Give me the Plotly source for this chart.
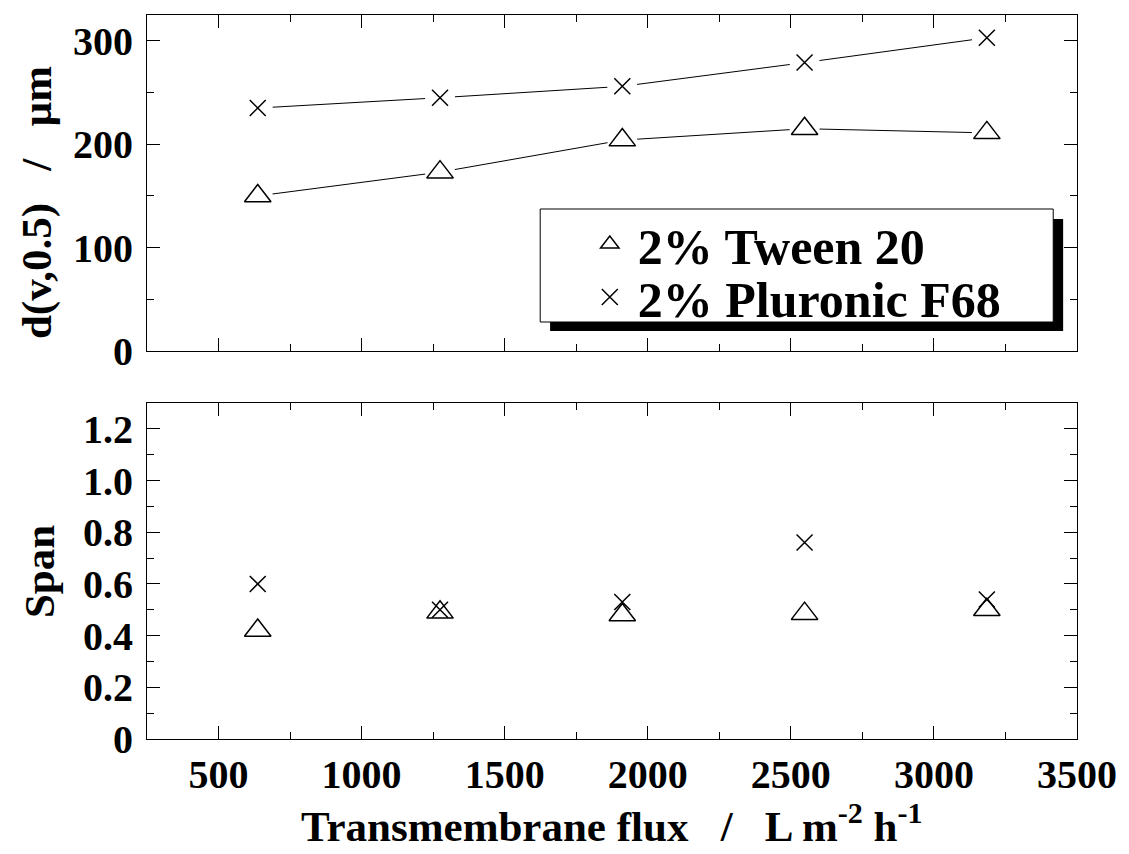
import plotly.graph_objects as go
from plotly.subplots import make_subplots

flux = [637, 1274, 1911, 2548, 3185]
d50_tween = [150, 173, 204, 215, 211]
d50_pluronic = [235, 245, 256, 279, 303]
span_tween = [0.42, 0.49, 0.48, 0.485, 0.50]
span_pluronic = [0.60, 0.50, 0.53, 0.76, 0.54]
names = ["2% Tween 20", "2% Pluronic F68"]
x_ticks = [500, 1000, 1500, 2000, 2500, 3000, 3500]
top_ticks = [0, 100, 200, 300]
bot_ticks = [0, 0.2, 0.4, 0.6, 0.8, 1.0, 1.2]
bot_ticklabels = ["0", "0.2", "0.4", "0.6", "0.8", "1.0", "1.2"]

FONT = "Liberation Serif"
NB = "\u00a0"

fig = make_subplots(rows=2, cols=1, shared_xaxes=False, vertical_spacing=0.0)

# top: connecting lines
for ys in (d50_tween, d50_pluronic):
    fig.add_trace(go.Scatter(x=flux, y=ys, mode="lines", line=dict(color="black", width=1),
                             showlegend=False, hoverinfo="skip"), row=1, col=1)
# white masks to leave gaps around markers
for ys in (d50_tween, d50_pluronic):
    fig.add_trace(go.Scatter(x=flux, y=ys, mode="markers",
                             marker=dict(symbol="circle", size=30, color="white", line=dict(width=0)),
                             showlegend=False, hoverinfo="skip"), row=1, col=1)

tri = dict(symbol="triangle-up-open", size=23, color="black", line=dict(width=1.5, color="black"))
crs = dict(symbol="x-thin-open", size=16, color="black", line=dict(width=1.5, color="black"))

fig.add_trace(go.Scatter(x=flux, y=d50_tween, mode="markers", marker=tri, name=names[0],
                         legendgroup="t", legend="legend"), row=1, col=1)
fig.add_trace(go.Scatter(x=flux, y=d50_pluronic, mode="markers", marker=crs, name=names[1],
                         legendgroup="p", legend="legend2"), row=1, col=1)
fig.add_trace(go.Scatter(x=flux, y=span_tween, mode="markers", marker=tri, name=names[0],
                         legendgroup="t", showlegend=False), row=2, col=1)
fig.add_trace(go.Scatter(x=flux, y=span_pluronic, mode="markers", marker=crs, name=names[1],
                         legendgroup="p", showlegend=False), row=2, col=1)

tickfont = dict(family=FONT, size=40, color="black", weight="bold")
common_x = dict(range=[250, 3500], tickvals=x_ticks, ticks="inside", ticklen=13, tickwidth=1,
                tickcolor="black", showline=True, linecolor="black", linewidth=1.2, mirror="ticks",
                showgrid=False, zeroline=False,
                minor=dict(dtick=250, tick0=0, ticks="inside", ticklen=7, tickwidth=1, tickcolor="black"),
                tickfont=tickfont)
common_y = dict(ticks="inside", ticklen=13, tickwidth=1, tickcolor="black", showline=True,
                linecolor="black", linewidth=1.2, mirror="ticks", showgrid=False, zeroline=False,
                tickfont=tickfont, ticklabelstandoff=5)

fig.update_xaxes(**common_x)
fig.update_xaxes(showticklabels=False, row=1, col=1)
fig.update_xaxes(ticklabelstandoff=0, row=2, col=1)
fig.update_yaxes(**common_y)
fig.update_yaxes(range=[0, 325], tickvals=top_ticks,
                 minor=dict(dtick=50, tick0=0, ticks="inside", ticklen=7, tickwidth=1, tickcolor="black"),
                 row=1, col=1)
fig.update_yaxes(range=[0, 1.3], tickvals=bot_ticks, ticktext=bot_ticklabels,
                 minor=dict(dtick=0.1, tick0=0, ticks="inside", ticklen=7, tickwidth=1, tickcolor="black"),
                 row=2, col=1)

W, H = 1129, 854
L, R, T, B = 147, 43, 15, 115
pw, ph = W - L - R, H - T - B
mid1_px, mid2_px, bot_px = 351, 403, 739
def py(p):
    return (bot_px - p) / ph
def px(p):
    return (p - L) / pw

fig.layout.yaxis.domain = [py(mid1_px), 1]
fig.layout.yaxis2.domain = [0, py(mid2_px)]

# legend box with drop shadow
fig.add_shape(type="rect", xref="paper", yref="paper", x0=px(554), x1=px(1072), y0=py(331), y1=py(219),
              fillcolor="black", line=dict(width=0), layer="above")
fig.add_shape(type="rect", xref="paper", yref="paper", x0=px(544), x1=px(1062), y0=py(322), y1=py(209),
              fillcolor="white", line=dict(width=1, color="black"), layer="above")

legfont = dict(family=FONT, size=50, color="black", weight="bold")
fig.update_layout(
    width=W, height=H,
    margin=dict(l=L, r=R, t=T, b=B),
    paper_bgcolor="white", plot_bgcolor="white",
    showlegend=True,
    legend=dict(x=px(586), y=py(244), xanchor="left", yanchor="middle",
                bgcolor="rgba(0,0,0,0)", borderwidth=0, itemwidth=46, font=legfont),
    legend2=dict(x=px(586), y=py(297), xanchor="left", yanchor="middle",
                 bgcolor="rgba(0,0,0,0)", borderwidth=0, itemwidth=46, font=legfont),
    font=dict(family=FONT, color="black"),
)

titlefont = dict(family=FONT, size=43, color="black", weight="bold")
fig.add_annotation(text="Transmembrane flux" + NB * 3 + "/" + NB * 3 + "L m<sup>-2</sup> h<sup>-1</sup>",
                   xref="paper", yref="paper", x=px(616), y=py(823), xanchor="center", yanchor="middle",
                   showarrow=False, font=titlefont)
fig.add_annotation(text="d(v,0.5)" + NB * 3 + "/" + NB * 3 + "µm",
                   xref="paper", yref="paper", x=px(36), y=py(203), xanchor="center", yanchor="middle",
                   textangle=-90, showarrow=False, font=titlefont)
fig.add_annotation(text="Span",
                   xref="paper", yref="paper", x=px(38), y=py(572), xanchor="center", yanchor="middle",
                   textangle=-90, showarrow=False, font=titlefont)

fig.write_html("out.html")
